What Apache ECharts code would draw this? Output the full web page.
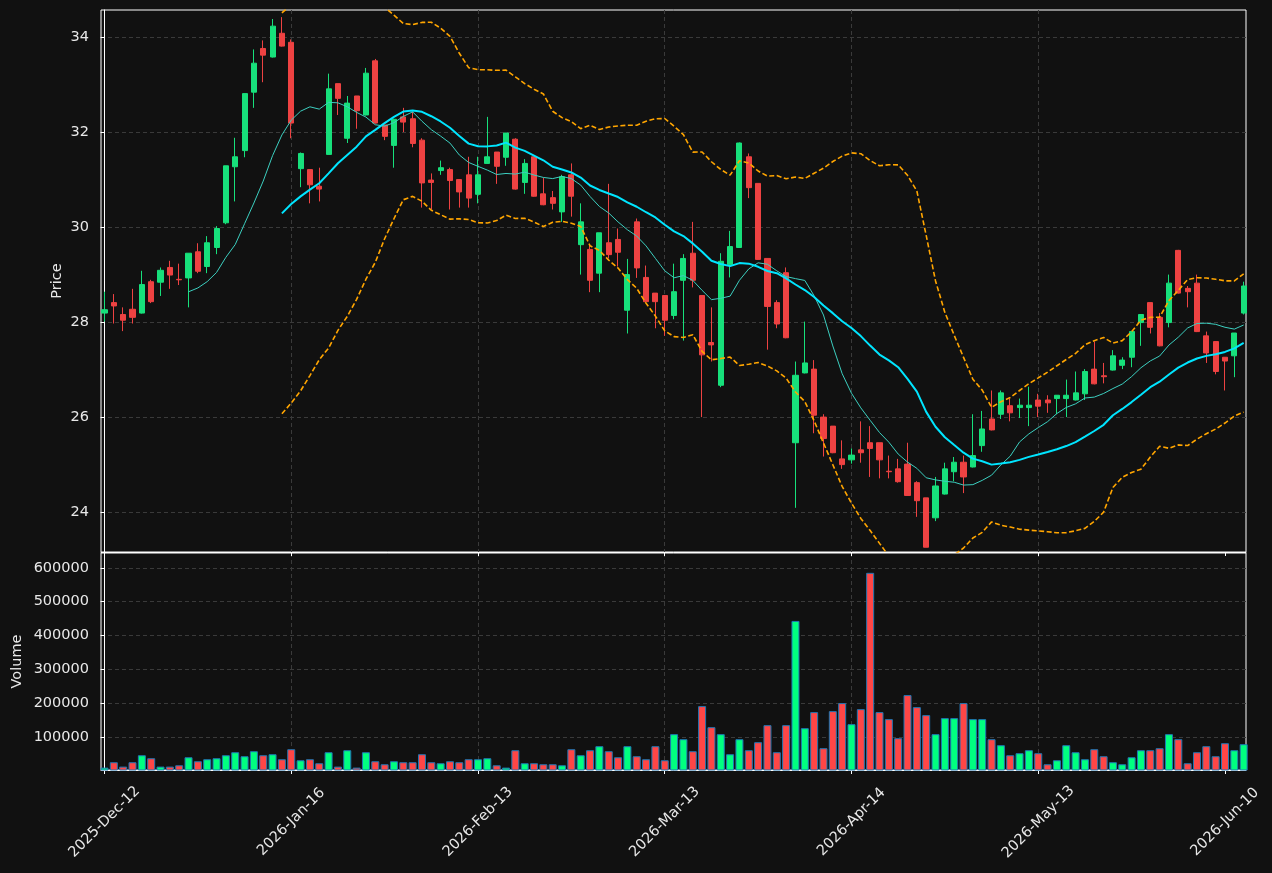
<!DOCTYPE html>
<html>
<head>
<meta charset="utf-8">
<script src="https://cdn.jsdelivr.net/npm/echarts@6/dist/echarts.min.js"></script>
<style>
  html, body { margin: 0; padding: 0; background: #111111; }
  #chart { width: 1272px; height: 873px; }
</style>
</head>
<body>
<div id="chart"></div>
<script>
// tick labels, one every 20 sessions
const tickLabels = ['2025-Dec-12', '2026-Jan-16', '2026-Feb-13', '2026-Mar-13', '2026-Apr-14', '2026-May-13', '2026-Jun-10'];

const opens = [
  28.19, 28.41, 28.16, 28.27, 28.19, 28.85, 28.84, 29.15, 28.90, 28.93,
  29.48, 29.17, 29.57, 30.09, 31.27, 31.61, 32.84, 33.76, 33.58, 34.08,
  33.89, 31.23, 31.21, 30.86, 31.53, 33.02, 31.87, 32.76, 32.36, 33.50,
  32.15, 31.72, 32.32, 32.28, 31.83, 30.99, 31.19, 31.21, 31.00, 31.10,
  30.69, 31.34, 31.58, 31.47, 31.85, 30.94, 31.48, 30.70, 30.62, 30.32,
  31.10, 29.63, 29.53, 29.03, 29.67, 29.74, 28.25, 30.11, 28.94, 28.61,
  28.56, 28.14, 28.88, 29.45, 28.56, 27.57, 26.67, 29.21, 29.57, 31.48,
  30.92, 29.34, 28.41, 29.04, 25.46, 26.93, 27.01, 26.00, 25.81, 25.12,
  25.10, 25.31, 25.46, 25.46, 24.86, 24.91, 25.01, 24.62, 24.30, 23.88,
  24.38, 24.85, 25.05, 24.95, 25.40, 25.96, 26.06, 26.24, 26.20, 26.20,
  26.36, 26.36, 26.39, 26.39, 26.36, 26.49, 27.01, 26.87, 26.99, 27.09,
  27.26, 27.99, 28.41, 28.10, 27.99, 29.51, 28.71, 28.82, 27.71, 27.59,
  27.26, 27.29, 28.19
];
const highs = [
  28.64, 28.59, 28.31, 28.70, 29.08, 28.89, 29.15, 29.29, 29.23, 29.45,
  29.66, 29.81, 30.02, 31.29, 31.88, 32.81, 33.74, 33.93, 34.38, 34.42,
  33.95, 31.57, 31.21, 31.25, 33.23, 33.02, 32.76, 32.76, 33.35, 33.54,
  32.15, 32.28, 32.51, 32.43, 31.87, 31.13, 31.40, 31.25, 31.00, 31.48,
  31.48, 32.32, 31.58, 31.98, 31.87, 31.43, 31.48, 31.04, 30.76, 31.10,
  31.34, 30.50, 29.62, 29.88, 30.91, 29.97, 29.33, 30.18, 29.19, 28.61,
  28.56, 29.23, 29.43, 30.11, 28.56, 28.31, 29.45, 29.92, 31.78, 31.55,
  30.92, 29.34, 28.46, 29.15, 27.17, 28.01, 27.20, 26.06, 25.81, 25.51,
  25.34, 25.91, 25.81, 25.46, 25.19, 25.12, 25.46, 24.65, 24.30, 24.74,
  25.04, 25.16, 25.19, 26.06, 26.13, 26.56, 26.56, 26.39, 26.39, 26.64,
  26.49, 26.46, 26.46, 26.79, 26.96, 27.01, 27.59, 27.14, 27.41, 27.26,
  27.81, 28.16, 28.41, 28.19, 29.00, 29.52, 28.76, 29.00, 27.80, 27.59,
  27.26, 27.77, 28.85
];
const lows = [
  28.01, 27.97, 27.81, 27.97, 28.18, 28.40, 28.55, 28.70, 28.78, 28.31,
  29.03, 29.03, 29.43, 30.06, 30.54, 31.47, 32.51, 33.05, 33.57, 33.80,
  31.87, 30.84, 30.50, 30.54, 31.53, 32.36, 31.77, 32.07, 32.35, 32.18,
  31.83, 31.25, 32.00, 31.68, 30.41, 30.37, 31.10, 30.37, 30.41, 30.41,
  30.50, 31.33, 30.91, 31.29, 30.79, 30.70, 30.64, 30.46, 30.37, 30.11,
  30.22, 29.00, 28.63, 28.63, 29.34, 29.17, 27.76, 28.93, 28.43, 27.87,
  27.71, 28.06, 27.61, 28.73, 26.00, 27.17, 26.63, 28.94, 29.56, 30.61,
  29.31, 27.42, 27.87, 27.66, 24.09, 26.92, 25.66, 25.17, 25.24, 24.91,
  25.02, 25.04, 24.74, 24.71, 24.71, 24.62, 24.34, 23.90, 23.26, 23.81,
  24.37, 24.65, 24.40, 24.94, 25.27, 25.72, 25.96, 25.91, 25.98, 25.81,
  26.00, 26.09, 26.06, 26.00, 26.35, 26.36, 26.69, 26.71, 26.98, 27.01,
  27.05, 27.50, 27.76, 27.49, 27.89, 28.60, 28.31, 27.79, 27.14, 26.90,
  26.56, 26.84, 28.16
];
const closes = [
  28.26, 28.34, 28.04, 28.10, 28.79, 28.43, 29.09, 28.99, 28.89, 29.45,
  29.07, 29.67, 29.97, 31.29, 31.48, 32.81, 33.45, 33.62, 34.23, 33.81,
  32.19, 31.55, 30.89, 30.80, 32.91, 32.71, 32.61, 32.45, 33.24, 32.19,
  31.91, 32.27, 32.21, 31.76, 30.93, 30.94, 31.25, 30.98, 30.74, 30.61,
  31.10, 31.48, 31.28, 31.98, 30.80, 31.34, 30.65, 30.47, 30.50, 31.06,
  30.65, 30.11, 28.88, 29.88, 29.42, 29.47, 29.00, 29.14, 28.43, 28.43,
  28.04, 28.64, 29.34, 28.88, 27.31, 27.52, 29.28, 29.59, 31.77, 30.83,
  29.32, 28.33, 27.96, 27.67, 26.88, 27.14, 26.04, 25.55, 25.25, 25.00,
  25.20, 25.25, 25.34, 25.10, 24.85, 24.64, 24.35, 24.24, 23.26, 24.55,
  24.91, 25.05, 24.74, 25.19, 25.75, 25.73, 26.51, 26.09, 26.25, 26.25,
  26.23, 26.30, 26.46, 26.46, 26.51, 26.96, 26.70, 26.85, 27.29, 27.20,
  27.80, 28.16, 27.89, 27.50, 28.82, 28.61, 28.64, 27.80, 27.35, 26.96,
  27.18, 27.77, 28.76
];
const volumes = [
  10100, 26000, 13100, 26000, 46600, 37800, 13100, 13100, 17000, 40700,
  28900, 34800, 37800, 46600, 55500, 43700, 58500, 46600, 49600, 34800,
  64400, 31800, 34800, 23000, 55500, 13100, 61400, 10100, 55500, 28900,
  20000, 28900, 26000, 26000, 49600, 26000, 23000, 28900, 26000, 34800,
  34800, 37800, 17000, 10100, 61400, 23000, 23000, 20000, 20000, 17000,
  64400, 46600, 61400, 73300, 58500, 40700, 73300, 43700, 34800, 73300,
  31800, 108800, 94000, 58500, 191600, 129500, 108800, 49600, 94000, 61400,
  85100, 135400, 55500, 135400, 443100, 126500, 173900, 67400, 176800, 200500,
  138400, 182700, 585100, 173900, 153200, 96900, 224200, 188600, 165000, 108800,
  156100, 156100, 200500, 153200, 153200, 94000, 76200, 46600, 52600, 61400,
  52600, 20000, 31800, 76200, 55500, 34800, 64400, 43700, 26000, 20000,
  40700, 61400, 61400, 67400, 108800, 94000, 23000, 55500, 73300, 43700,
  82100, 61400, 79200
];

const UP = '#17e07b', DOWN = '#ee4242';
const VOL_UP = '#00ff80', VOL_DOWN = '#ff4646';
const TXT = '#e8e8e8', GRIDLINE = '#3a3a3a';
const FONT = 'DejaVu Sans', FS = 14.5;

// rolling mean / bollinger from closes
function rolling(n, fn) {
  const out = [];
  for (let i = n - 1; i < closes.length; i++) {
    const win = closes.slice(i - n + 1, i + 1);
    out.push([i, fn(win)]);
  }
  return out;
}
const mean = w => w.reduce((a, b) => a + b, 0) / w.length;
const std = w => { const m = mean(w); return Math.sqrt(w.reduce((a, b) => a + (b - m) * (b - m), 0) / w.length); };
const ma10 = rolling(10, mean);
const ma20 = rolling(20, mean);
const bbUp = rolling(20, w => mean(w) + 2 * std(w));
const bbLow = rolling(20, w => mean(w) - 2 * std(w));

const candles = closes.map((c, i) => [i, opens[i], c, lows[i], highs[i]]);
const volBars = volumes.map((v, i) => ({
  value: [i, v],
  itemStyle: { color: closes[i] >= opens[i] ? VOL_UP : VOL_DOWN }
}));

const X_MIN = -0.375, X_MAX = 122.25;
const tickIdx = tickLabels.map((_, k) => k * 20);

function xAxisFor(gridIndex, showLabels) {
  return {
    type: 'value', gridIndex, min: X_MIN, max: X_MAX,
    axisLine: { show: true, lineStyle: { color: '#ffffff' } },
    axisTick: { show: true, length: 4, lineStyle: { color: '#ffffff' }, customValues: tickIdx },
    axisLabel: {
      show: showLabels, rotate: 45, color: TXT, fontSize: FS, fontFamily: FONT, margin: 52,
      align: 'center', verticalAlign: 'middle',
      customValues: tickIdx,
      formatter: v => tickLabels[Math.round(v / 20)] || ''
    },
    splitLine: { show: true, showMinLine: false, showMaxLine: false, lineStyle: { color: GRIDLINE, type: [4, 3], width: 1 } }
  };
}

function yAxisBase(gridIndex) {
  return {
    type: 'value', gridIndex, nameLocation: 'middle', nameMoveOverlap: false,
    nameTextStyle: { color: TXT, fontSize: FS, fontFamily: FONT },
    axisLine: { show: true, lineStyle: { color: '#ffffff' } },
    axisTick: { show: true, length: 4, lineStyle: { color: '#ffffff' } },
    splitLine: { show: true, showMinLine: false, showMaxLine: false, lineStyle: { color: GRIDLINE, type: [4, 3], width: 1 } }
  };
}

const chart = echarts.init(document.getElementById('chart'));
chart.setOption({
  backgroundColor: '#111111',
  animation: false,
  grid: [
    { left: 101, right: 26, top: 10, height: 542, show: true, borderColor: '#ffffff', borderWidth: 1, backgroundColor: '#111111' },
    { left: 101, right: 26, top: 553, height: 217, show: true, borderColor: '#ffffff', borderWidth: 1, backgroundColor: '#111111' }
  ],
  xAxis: [xAxisFor(0, false), xAxisFor(1, true)],
  yAxis: [
    Object.assign(yAxisBase(0), {
      min: 23.16, max: 34.57, name: 'Price', nameGap: 36,
      axisLabel: { color: TXT, fontSize: FS, fontFamily: FONT, margin: 12, showMinLabel: false, showMaxLabel: false }
    }),
    Object.assign(yAxisBase(1), {
      min: 0.3 * Math.min(...volumes), max: 1.1 * Math.max(...volumes),
      name: 'Volume', nameGap: 76,
      axisLabel: { color: TXT, fontSize: FS, fontFamily: FONT, margin: 12, showMinLabel: false, showMaxLabel: false, formatter: v => String(Math.round(v)) }
    })
  ],
  series: [
    {
      type: 'candlestick', xAxisIndex: 0, yAxisIndex: 0,
      data: candles, encode: { x: 0, y: [1, 2, 3, 4] },
      barWidth: 5.6,
      itemStyle: { color: UP, color0: DOWN, borderColor: UP, borderColor0: DOWN, borderWidth: 1 }
    },
    {
      type: 'line', xAxisIndex: 0, yAxisIndex: 0, data: ma10, showSymbol: false,
      lineStyle: { color: '#3ccfc0', width: 1 }, z: 3
    },
    {
      type: 'line', xAxisIndex: 0, yAxisIndex: 0, data: ma20, showSymbol: false,
      lineStyle: { color: '#00e5ff', width: 2 }, z: 3
    },
    {
      type: 'line', xAxisIndex: 0, yAxisIndex: 0, data: bbUp, showSymbol: false,
      lineStyle: { color: '#ffa500', width: 1.6, type: [5, 2.5] }, z: 3
    },
    {
      type: 'line', xAxisIndex: 0, yAxisIndex: 0, data: bbLow, showSymbol: false,
      lineStyle: { color: '#ffa500', width: 1.6, type: [5, 2.5] }, z: 3
    },
    {
      type: 'bar', xAxisIndex: 1, yAxisIndex: 1, data: volBars, barWidth: 8,
      itemStyle: { borderColor: '#1f77b4', borderWidth: 1 }
    }
  ]
});
</script>
</body>
</html>
